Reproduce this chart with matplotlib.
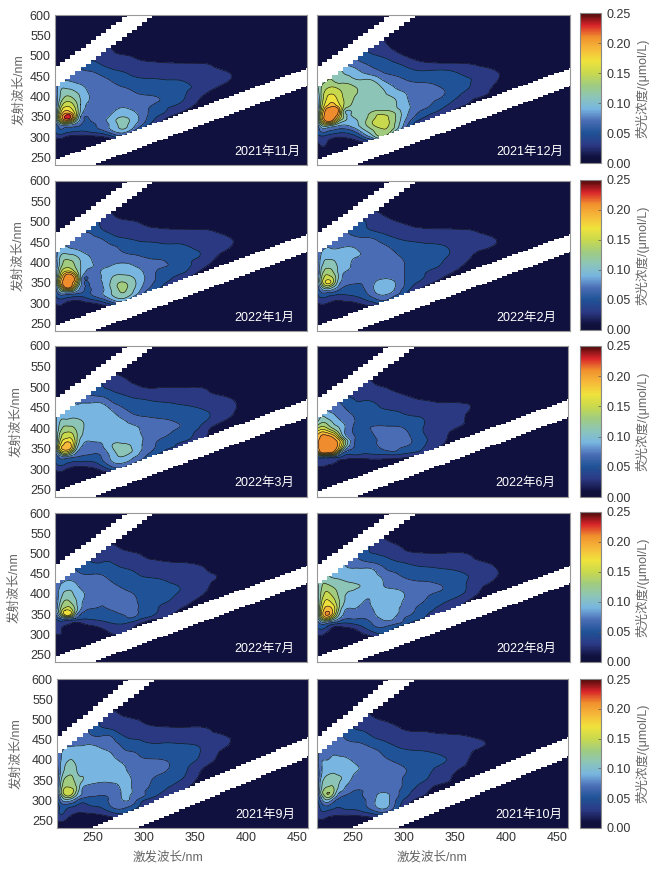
import numpy as np
import matplotlib
matplotlib.use('Agg')
import matplotlib.pyplot as plt
import matplotlib.tri as mtri
from matplotlib.cm import ScalarMappable
from matplotlib.colors import LinearSegmentedColormap, ListedColormap, Normalize

plt.rcParams['font.family'] = ['Liberation Sans', 'Noto Sans CJK SC', 'DejaVu Sans']

# values, in 0.001 umol/L
ex = [215, 220, 225, 230, 235, 240, 250, 260, 270, 280, 290, 300, 320, 340, 360, 380]
em_a = [520, 500, 480, 460, 440, 420, 400, 380, 370, 360, 350, 340, 330, 320, 300, 280]
em_b = [520, 500, 480, 460, 440, 420, 400, 380, 360, 340, 330, 320, 310, 300, 280, 260]

nov_2021 = [
    [40, 40, 40, 40, 40, 40, 40, 30, 19, 3, 0, 0, 0, 0, 0, 0],
    [60, 60, 60, 60, 50, 45, 38, 34, 28, 23, 18, 10, 2, 0, 0, 0],
    [80, 70, 70, 60, 60, 50, 45, 39, 33, 30, 28, 26, 23, 22, 21, 10],
    [80, 80, 80, 75, 70, 65, 61, 55, 46, 41, 36, 33, 30, 28, 26, 22],
    [70, 78, 80, 78, 75, 72, 68, 64, 59, 51, 46, 43, 41, 39, 32, 24],
    [60, 95, 100, 98, 93, 88, 72, 68, 65, 62, 58, 53, 47, 43, 31, 12],
    [50, 100, 120, 120, 110, 98, 78, 70, 68, 67, 65, 63, 57, 42, 18, 0],
    [45, 120, 150, 150, 130, 100, 74, 70, 69, 74, 74, 70, 52, 34, 10, 0],
    [45, 135, 170, 165, 140, 100, 72, 68, 73, 82, 78, 68, 45, 25, 5, 0],
    [50, 150, 195, 190, 150, 95, 70, 67, 78, 88, 85, 70, 42, 17, 0, 0],
    [50, 170, 225, 225, 150, 80, 66, 70, 85, 100, 92, 72, 30, 5, 0, 0],
    [50, 140, 180, 160, 110, 72, 60, 72, 90, 108, 95, 70, 20, 0, 0, 0],
    [40, 80, 85, 80, 70, 60, 55, 65, 85, 105, 90, 60, 10, 0, 0, 0],
    [35, 60, 55, 52, 50, 48, 52, 62, 83, 100, 80, 40, 0, 0, 0, 0],
    [20, 25, 18, 12, 10, 10, 12, 15, 30, 45, 20, 0, 0, 0, 0, 0],
    [5, 12, 5, 0, 0, 0, 0, 0, 0, 0, 0, 0, 0, 0, 0, 0],
]
dec_2021 = [
    [60, 60, 60, 60, 60, 60, 50, 40, 33, 25, 17, 8, 0, 0, 0, 0],
    [80, 80, 80, 80, 70, 65, 58, 48, 42, 37, 30, 20, 4, 0, 0, 0],
    [90, 95, 95, 90, 85, 80, 72, 62, 55, 48, 42, 37, 25, 23, 21, 12],
    [100, 110, 115, 112, 108, 100, 90, 78, 68, 59, 52, 46, 42, 43, 36, 28],
    [100, 112, 120, 120, 112, 112, 105, 102, 98, 78, 71, 62, 55, 50, 42, 30],
    [90, 125, 140, 145, 140, 135, 125, 115, 108, 98, 82, 74, 68, 58, 42, 23],
    [70, 130, 160, 165, 155, 140, 122, 112, 106, 102, 98, 84, 68, 57, 32, 17],
    [60, 140, 175, 190, 170, 145, 118, 108, 106, 105, 103, 88, 65, 43, 20, 0],
    [60, 150, 205, 212, 205, 140, 112, 105, 108, 112, 106, 90, 60, 35, 10, 0],
    [60, 170, 212, 216, 205, 125, 104, 108, 128, 132, 121, 90, 50, 25, 0, 0],
    [60, 180, 215, 215, 180, 125, 100, 112, 135, 145, 125, 88, 40, 10, 0, 0],
    [55, 160, 205, 190, 135, 105, 92, 113, 142, 148, 125, 82, 25, 0, 0, 0],
    [45, 110, 120, 105, 88, 80, 88, 112, 140, 148, 122, 75, 10, 0, 0, 0],
    [40, 75, 72, 65, 60, 58, 70, 100, 125, 140, 115, 60, 0, 0, 0, 0],
    [30, 35, 30, 24, 20, 20, 28, 55, 90, 110, 50, 0, 0, 0, 0, 0],
    [10, 22, 15, 3, 0, 0, 0, 0, 0, 0, 0, 0, 0, 0, 0, 0],
]
jan_2022 = [
    [40, 40, 40, 40, 40, 40, 40, 32, 21, 8, 0, 0, 0, 0, 0, 0],
    [60, 60, 60, 60, 55, 50, 46, 38, 30, 26, 23, 16, 3, 0, 0, 0],
    [80, 75, 70, 65, 62, 58, 55, 42, 36, 32, 29, 26, 23, 22, 21, 12],
    [85, 85, 85, 80, 75, 70, 64, 59, 47, 41, 38, 36, 32, 31, 29, 24],
    [75, 78, 80, 78, 76, 74, 69, 66, 62, 56, 48, 45, 44, 42, 35, 26],
    [65, 95, 103, 100, 96, 88, 76, 68, 66, 63, 60, 57, 52, 44, 38, 15],
    [55, 105, 125, 125, 115, 100, 82, 74, 76, 79, 76, 68, 62, 46, 30, 5],
    [50, 125, 155, 155, 130, 100, 76, 80, 88, 92, 90, 80, 56, 45, 15, 0],
    [50, 140, 195, 205, 165, 100, 72, 80, 95, 100, 97, 84, 52, 35, 8, 0],
    [55, 160, 208, 212, 190, 95, 70, 80, 100, 112, 104, 86, 50, 25, 2, 0],
    [55, 170, 212, 212, 170, 90, 66, 78, 104, 122, 110, 84, 45, 15, 0, 0],
    [50, 130, 205, 205, 135, 78, 62, 76, 104, 125, 110, 80, 38, 0, 0, 0],
    [40, 95, 115, 115, 90, 68, 60, 75, 100, 122, 105, 72, 25, 0, 0, 0],
    [35, 60, 58, 55, 50, 48, 58, 75, 98, 115, 95, 55, 5, 0, 0, 0],
    [20, 25, 18, 12, 10, 12, 18, 28, 50, 65, 35, 0, 0, 0, 0, 0],
    [5, 10, 5, 0, 0, 0, 0, 0, 0, 0, 0, 0, 0, 0, 0, 0],
]
feb_2022 = [
    [40, 40, 40, 40, 40, 40, 40, 32, 24, 18, 10, 3, 0, 0, 0, 0],
    [55, 55, 55, 55, 50, 48, 46, 42, 32, 27, 22, 16, 2, 0, 0, 0],
    [70, 70, 70, 65, 62, 60, 56, 46, 38, 33, 30, 28, 24, 23, 21, 12],
    [75, 75, 75, 72, 70, 66, 62, 61, 59, 50, 41, 37, 34, 32, 28, 24],
    [60, 72, 78, 76, 76, 78, 78, 70, 64, 62, 55, 48, 44, 40, 31, 24],
    [55, 85, 92, 90, 88, 87, 84, 78, 69, 66, 62, 56, 49, 42, 28, 8],
    [50, 95, 105, 105, 96, 88, 78, 71, 68, 66, 64, 60, 48, 38, 20, 0],
    [45, 110, 125, 120, 100, 85, 76, 67, 66, 66, 64, 60, 42, 30, 10, 0],
    [45, 120, 140, 130, 105, 80, 70, 65, 68, 72, 70, 60, 40, 22, 5, 0],
    [50, 130, 155, 145, 105, 78, 67, 65, 74, 80, 76, 60, 38, 15, 0, 0],
    [50, 130, 165, 145, 95, 72, 62, 62, 78, 88, 82, 60, 30, 5, 0, 0],
    [45, 100, 125, 105, 80, 62, 56, 60, 80, 90, 82, 58, 18, 0, 0, 0],
    [40, 70, 75, 70, 58, 50, 50, 56, 78, 88, 78, 50, 10, 0, 0, 0],
    [35, 50, 45, 42, 38, 38, 42, 50, 70, 80, 65, 40, 0, 0, 0, 0],
    [20, 22, 20, 15, 12, 14, 16, 25, 35, 45, 25, 0, 0, 0, 0, 0],
    [6, 10, 5, 0, 0, 0, 0, 0, 0, 0, 0, 0, 0, 0, 0, 0],
]
mar_2022 = [
    [40, 40, 40, 40, 40, 40, 40, 36, 28, 24, 14, 6, 0, 0, 0, 0],
    [60, 60, 60, 60, 58, 55, 50, 42, 36, 30, 26, 20, 19, 19, 18, 5],
    [80, 80, 80, 75, 72, 68, 60, 56, 48, 42, 36, 32, 29, 27, 26, 18],
    [90, 90, 90, 85, 80, 80, 81, 81, 65, 55, 50, 47, 42, 38, 34, 30],
    [80, 85, 85, 85, 86, 88, 88, 86, 82, 68, 58, 52, 48, 46, 42, 30],
    [70, 98, 102, 104, 104, 100, 92, 88, 84, 82, 72, 68, 62, 55, 44, 22],
    [60, 110, 125, 125, 118, 105, 95, 90, 87, 86, 84, 78, 68, 57, 32, 5],
    [55, 130, 150, 155, 130, 103, 88, 86, 90, 90, 87, 80, 62, 48, 26, 0],
    [55, 140, 170, 170, 135, 95, 82, 84, 92, 94, 90, 81, 56, 44, 18, 0],
    [55, 155, 185, 185, 130, 88, 75, 78, 98, 103, 97, 80, 52, 32, 8, 0],
    [55, 165, 190, 180, 115, 78, 68, 74, 96, 108, 100, 80, 48, 25, 0, 0],
    [50, 120, 150, 125, 85, 68, 62, 65, 90, 106, 98, 75, 38, 0, 0, 0],
    [40, 70, 80, 70, 62, 58, 56, 60, 85, 100, 85, 68, 20, 0, 0, 0],
    [35, 55, 50, 45, 42, 42, 42, 55, 80, 88, 75, 52, 5, 0, 0, 0],
    [22, 26, 22, 15, 12, 12, 15, 25, 45, 52, 30, 5, 0, 0, 0, 0],
    [6, 10, 5, 0, 0, 0, 0, 0, 0, 0, 0, 0, 0, 0, 0, 0],
]
jun_2022 = [
    [30, 30, 30, 30, 30, 30, 30, 25, 17, 5, 0, 0, 0, 0, 0, 0],
    [40, 40, 40, 40, 40, 38, 35, 30, 25, 20, 12, 4, 0, 0, 0, 0],
    [60, 60, 60, 60, 55, 45, 38, 36, 34, 30, 26, 21, 12, 5, 0, 0],
    [70, 75, 75, 72, 65, 58, 44, 42, 41, 36, 31, 28, 24, 21, 20, 8],
    [90, 90, 82, 78, 72, 66, 56, 48, 44, 42, 41, 38, 32, 26, 22, 5],
    [90, 110, 105, 95, 85, 75, 62, 54, 52, 50, 48, 46, 40, 28, 20, 0],
    [135, 150, 140, 120, 105, 88, 60, 56, 61, 63, 63, 60, 39, 25, 15, 0],
    [180, 205, 205, 195, 160, 105, 64, 50, 58, 66, 67, 66, 42, 23, 5, 0],
    [190, 212, 212, 208, 195, 150, 68, 52, 56, 66, 70, 68, 44, 22, 0, 0],
    [190, 212, 212, 210, 200, 150, 66, 50, 56, 66, 70, 66, 42, 18, 0, 0],
    [190, 212, 212, 208, 190, 120, 60, 48, 52, 62, 66, 56, 38, 10, 0, 0],
    [120, 200, 200, 190, 130, 65, 50, 44, 46, 50, 54, 45, 30, 0, 0, 0],
    [50, 65, 65, 60, 50, 38, 28, 27, 28, 28, 28, 25, 10, 0, 0, 0],
    [30, 30, 28, 24, 20, 16, 12, 14, 16, 16, 14, 8, 0, 0, 0, 0],
    [10, 8, 5, 2, 0, 0, 0, 0, 0, 0, 0, 0, 0, 0, 0, 0],
    [0, 0, 0, 0, 0, 0, 0, 0, 0, 0, 0, 0, 0, 0, 0, 0],
]
jul_2022 = [
    [35, 35, 35, 35, 35, 35, 35, 28, 22, 15, 5, 0, 0, 0, 0, 0],
    [50, 50, 50, 50, 48, 45, 42, 36, 28, 25, 23, 17, 3, 0, 0, 0],
    [60, 60, 60, 58, 58, 50, 40, 39, 39, 30, 26, 24, 21, 18, 14, 2],
    [65, 65, 65, 62, 60, 56, 52, 52, 48, 44, 39, 34, 28, 25, 21, 12],
    [70, 72, 75, 74, 70, 66, 64, 63, 57, 51, 45, 41, 38, 30, 24, 16],
    [60, 80, 88, 92, 85, 76, 68, 66, 63, 58, 52, 48, 44, 38, 25, 8],
    [55, 90, 105, 105, 95, 85, 74, 68, 66, 64, 61, 54, 46, 36, 20, 0],
    [50, 100, 125, 120, 105, 85, 70, 62, 64, 66, 65, 55, 42, 28, 10, 0],
    [50, 110, 135, 135, 110, 85, 65, 60, 63, 66, 65, 56, 38, 22, 5, 0],
    [55, 120, 160, 155, 115, 78, 58, 57, 60, 64, 64, 56, 36, 15, 0, 0],
    [55, 110, 170, 165, 95, 60, 52, 50, 54, 60, 62, 56, 32, 8, 0, 0],
    [40, 65, 80, 75, 60, 48, 44, 44, 48, 54, 58, 42, 20, 0, 0, 0],
    [30, 35, 30, 25, 20, 22, 30, 36, 42, 45, 38, 22, 0, 0, 0, 0],
    [25, 22, 18, 12, 10, 14, 18, 24, 32, 34, 25, 8, 0, 0, 0, 0],
    [18, 20, 10, 0, 0, 0, 5, 10, 18, 20, 10, 0, 0, 0, 0, 0],
    [0, 0, 0, 0, 0, 0, 0, 0, 0, 0, 0, 0, 0, 0, 0, 0],
]
aug_2022 = [
    [50, 50, 50, 50, 50, 50, 50, 45, 35, 27, 22, 15, 0, 0, 0, 0],
    [70, 70, 70, 70, 68, 66, 62, 46, 40, 36, 30, 25, 21, 21, 20, 5],
    [100, 100, 95, 90, 85, 80, 70, 62, 56, 50, 42, 38, 33, 30, 28, 18],
    [105, 105, 100, 90, 84, 82, 82, 82, 80, 64, 56, 50, 44, 41, 36, 28],
    [110, 110, 105, 100, 98, 96, 94, 88, 84, 78, 68, 60, 54, 49, 41, 28],
    [90, 120, 125, 118, 112, 106, 102, 98, 88, 80, 77, 72, 66, 58, 40, 18],
    [80, 130, 145, 135, 120, 105, 96, 86, 84, 84, 83, 80, 64, 54, 36, 10],
    [70, 145, 165, 155, 130, 105, 88, 80, 82, 85, 84, 78, 58, 40, 20, 0],
    [70, 155, 180, 170, 135, 100, 84, 77, 82, 85, 84, 76, 52, 34, 15, 0],
    [70, 165, 195, 180, 130, 88, 78, 75, 80, 86, 84, 74, 48, 28, 8, 0],
    [70, 170, 205, 175, 115, 82, 70, 70, 78, 86, 84, 70, 44, 16, 0, 0],
    [60, 140, 160, 125, 90, 68, 62, 60, 72, 83, 80, 60, 38, 0, 0, 0],
    [48, 80, 75, 65, 55, 45, 48, 52, 64, 75, 70, 55, 20, 0, 0, 0],
    [40, 50, 40, 25, 20, 22, 28, 42, 58, 62, 50, 30, 0, 0, 0, 0],
    [20, 22, 12, 5, 5, 8, 10, 18, 30, 38, 20, 0, 0, 0, 0, 0],
    [0, 5, 0, 0, 0, 0, 0, 0, 0, 0, 0, 0, 0, 0, 0, 0],
]
sep_2021 = [
    [40, 40, 40, 40, 40, 40, 40, 30, 22, 10, 0, 0, 0, 0, 0, 0],
    [60, 60, 60, 60, 58, 55, 48, 38, 30, 26, 22, 15, 0, 0, 0, 0],
    [70, 70, 70, 70, 68, 66, 50, 40, 35, 30, 28, 24, 22, 21, 20, 8],
    [80, 80, 80, 78, 76, 72, 60, 60, 56, 40, 36, 34, 31, 29, 26, 20],
    [70, 75, 78, 78, 78, 78, 78, 72, 65, 55, 46, 42, 41, 40, 35, 24],
    [60, 80, 88, 90, 90, 88, 86, 84, 76, 64, 60, 52, 47, 46, 36, 14],
    [55, 85, 98, 100, 95, 92, 86, 84, 82, 76, 67, 62, 60, 48, 32, 8],
    [50, 90, 105, 105, 98, 90, 84, 84, 83, 82, 72, 66, 63, 44, 18, 0],
    [45, 100, 120, 120, 103, 100, 84, 83, 82, 83, 77, 68, 56, 40, 12, 0],
    [45, 115, 135, 130, 112, 92, 79, 76, 78, 83, 78, 68, 46, 30, 5, 0],
    [45, 125, 145, 140, 115, 80, 68, 68, 72, 83, 78, 66, 42, 25, 0, 0],
    [45, 130, 155, 145, 105, 78, 64, 66, 72, 82, 78, 62, 38, 15, 0, 0],
    [40, 105, 135, 120, 88, 70, 60, 58, 68, 82, 75, 60, 30, 8, 0, 0],
    [35, 80, 90, 80, 60, 48, 52, 55, 68, 80, 70, 40, 18, 0, 0, 0],
    [30, 45, 40, 35, 30, 30, 35, 40, 58, 60, 45, 25, 5, 0, 0, 0],
    [30, 35, 25, 15, 10, 8, 10, 15, 22, 28, 15, 0, 0, 0, 0, 0],
]
oct_2021 = [
    [35, 35, 35, 35, 35, 35, 35, 25, 14, 5, 0, 0, 0, 0, 0, 0],
    [50, 50, 50, 50, 48, 45, 42, 32, 23, 18, 12, 5, 0, 0, 0, 0],
    [60, 60, 60, 60, 58, 55, 41, 36, 30, 26, 23, 18, 14, 10, 5, 0],
    [65, 65, 65, 65, 62, 60, 52, 48, 38, 33, 28, 24, 23, 22, 20, 10],
    [60, 62, 64, 64, 64, 63, 62, 60, 52, 45, 38, 34, 30, 28, 24, 20],
    [55, 68, 72, 74, 74, 72, 70, 68, 64, 57, 48, 43, 41, 35, 26, 10],
    [50, 78, 80, 85, 85, 84, 78, 70, 67, 63, 58, 52, 45, 41, 24, 3],
    [45, 80, 90, 92, 90, 84, 84, 76, 70, 66, 64, 61, 46, 34, 16, 0],
    [40, 85, 102, 105, 102, 98, 80, 72, 68, 66, 64, 60, 44, 28, 5, 0],
    [40, 100, 115, 118, 105, 90, 72, 66, 66, 68, 68, 58, 36, 15, 0, 0],
    [40, 105, 125, 125, 102, 84, 66, 63, 66, 70, 69, 56, 30, 0, 0, 0],
    [40, 115, 140, 130, 90, 75, 58, 60, 72, 80, 70, 52, 24, 0, 0, 0],
    [38, 95, 130, 110, 75, 60, 50, 60, 75, 85, 72, 48, 18, 0, 0, 0],
    [32, 75, 95, 75, 55, 48, 45, 55, 75, 88, 68, 38, 8, 0, 0, 0],
    [30, 45, 48, 42, 38, 40, 42, 50, 68, 82, 58, 25, 0, 0, 0, 0],
    [24, 28, 22, 18, 16, 15, 15, 18, 24, 30, 15, 0, 0, 0, 0, 0],
]

panels = [nov_2021, dec_2021, jan_2022, feb_2022, mar_2022, jun_2022, jul_2022, aug_2022, sep_2021, oct_2021]
months = ['2021年11月', '2021年12月', '2022年1月', '2022年2月', '2022年3月',
          '2022年6月', '2022年7月', '2022年8月', '2021年9月', '2021年10月']
xticks = [250, 300, 350, 400, 450]
yticks = [250, 300, 350, 400, 450, 500, 550, 600]
cbar_ticks = [0.00, 0.05, 0.10, 0.15, 0.20, 0.25]
levels = [0.02, 0.04, 0.06, 0.08, 0.10, 0.12, 0.14, 0.16, 0.18, 0.20, 0.22, 0.24]

W, H = 656, 869
NAVY = '#11113f'
TEXT = '#333333'
GREY = '#666666'
cmap = LinearSegmentedColormap.from_list('eem', [
    (0.00, '#0f0f3a'), (0.01 / 0.25, NAVY), (0.03 / 0.25, '#2c3a85'), (0.05 / 0.25, '#1f5296'),
    (0.07 / 0.25, '#4a6db5'), (0.09 / 0.25, '#78b5e0'), (0.11 / 0.25, '#8cc5b8'),
    (0.13 / 0.25, '#a0cc80'), (0.15 / 0.25, '#c9d94e'), (0.17 / 0.25, '#efe23c'),
    (0.19 / 0.25, '#f6b93a'), (0.21 / 0.25, '#f0912e'), (0.23 / 0.25, '#d8232a'),
    (1.00, '#4a0a0a')])
norm = Normalize(0, 0.25)

# pixel boxes: top, bottom of each row
row_y = [(15, 165), (181, 331), (346, 497), (513, 662), (679, 828)]
left_x = [(55, 307), (55, 307), (55, 307), (55, 307), (57, 308)]
right_x = [(317, 570), (317, 570), (317, 568), (317, 570), (317, 568)]
cbar_y = [(13, 163), (180, 330), (346, 497), (512, 662), (679, 828)]
ylabel_x = [19, 18, 16, 14, 16]


def add_axes(x0, x1, y0, y1):
    return plt.axes([x0 / W, 1 - y1 / H, (x1 - x0) / W, (y1 - y0) / H])


def band_mask(row):
    # scatter bands are blanked cell by cell, that gives the stairs
    xe = np.arange(215, 466, 5)
    ye = np.arange(232, 602, 1)
    xc, yc = np.meshgrid(xe[:-1] + 2.5, ye[:-1] + 0.5)
    if row < 4:
        up1 = 470 + 1.83 * (xc - 215)
        lo1 = 421 + 1.85 * (xc - 215)
        up2 = 245 + 0.91 * (xc - 215)
        lo2 = 232 + 0.928 * (xc - 252)
    else:
        up1 = 455 + 2.07 * (xc - 215)
        lo1 = 412 + 1.96 * (xc - 215)
        up2 = 232 + 1.05 * (xc - 248)
        lo2 = 232 + 1.05 * (xc - 294)
    mask = np.full(xc.shape, np.nan)
    mask[yc >= up1] = 0
    mask[(yc >= lo1) & (yc < up1)] = 1
    mask[(yc >= lo2) & (yc < up2)] = 1
    mask[yc < lo2] = 0
    return xe, ye, mask


def draw_panel(ax, data, em, row):
    xs = np.array(ex + [420, 461], dtype=float)
    ys = np.array([600] + em + [230], dtype=float)
    z = np.pad(np.array(data, dtype=float) / 1000, ((1, 1), (0, 2)))
    xx, yy = np.meshgrid(xs, ys)
    tri = mtri.Triangulation(xx.ravel(), yy.ravel())
    refiner = mtri.UniformTriRefiner(tri)
    tri2, z2 = refiner.refine_field(z.ravel(), subdiv=3)
    z2 = np.clip(z2, 0, z.max())  # cubic overshoots above the read peak otherwise

    bounds = [-1] + levels + [1]
    mids = [0.0] + [l + 0.01 for l in levels]
    ax.set_facecolor(NAVY)
    ax.tricontourf(tri2, z2, levels=bounds, colors=[NAVY] + [cmap(norm(m)) for m in mids[1:]])
    ax.tricontour(tri2, z2, levels=levels, colors='#111111', linewidths=0.45)

    xe, ye, mask = band_mask(row)
    ax.pcolormesh(xe, ye, mask, cmap=ListedColormap([NAVY, 'white']), vmin=0, vmax=1,
                  shading='flat', zorder=3, linewidth=0, rasterized=True)

    ax.set_xlim(215, 461)
    ax.set_ylim(232, 600)
    ax.set_xticks(xticks)
    ax.set_yticks(yticks)
    ax.tick_params(length=0, pad=3, labelsize=9, labelcolor=TEXT)
    for s in ax.spines.values():
        s.set_color('#999999')
        s.set_linewidth(0.8)
        s.set_zorder(5)


fig = plt.figure(figsize=(W / 100, H / 100), dpi=100)

for row in range(5):
    y0, y1 = row_y[row]
    em = em_b if row == 4 else em_a
    ax1 = add_axes(left_x[row][0], left_x[row][1], y0, y1)
    ax2 = add_axes(right_x[row][0], right_x[row][1], y0, y1)
    draw_panel(ax1, panels[row * 2], em, row)
    draw_panel(ax2, panels[row * 2 + 1], em, row)
    ax2.set_yticklabels([])
    if row < 4:
        ax1.set_xticklabels([])
        ax2.set_xticklabels([])

    ax1.text(0.71, 0.09, months[row * 2], transform=ax1.transAxes, color='white', fontsize=9,
             va='center', zorder=6)
    ax2.text(0.71, 0.09, months[row * 2 + 1], transform=ax2.transAxes, color='white', fontsize=9,
             va='center', zorder=6)

    fig.text(ylabel_x[row] / W, 1 - (y0 + y1) / 2 / H, '发射波长/nm', rotation=90, color=GREY,
             fontsize=9, ha='center', va='center')

    cax = add_axes(580, 601, cbar_y[row][0], cbar_y[row][1])
    cb = fig.colorbar(ScalarMappable(norm=norm, cmap=cmap), cax=cax, ticks=cbar_ticks)
    cb.ax.set_yticklabels(['%.2f' % t for t in cbar_ticks])
    cb.ax.tick_params(length=2, width=0.5, direction='in', color='#555555', pad=4,
                      labelsize=9, labelcolor=TEXT)
    cb.outline.set_edgecolor('#888888')
    cb.outline.set_linewidth(0.8)
    fig.text(642 / W, 1 - sum(cbar_y[row]) / 2 / H, '荧光浓度/(μmol/L)', rotation=90, color=GREY,
             fontsize=9, ha='center', va='center')

fig.text(168 / W, 1 - 857 / H, '激发波长/nm', color=GREY, fontsize=9, ha='center', va='center')
fig.text(432 / W, 1 - 857 / H, '激发波长/nm', color=GREY, fontsize=9, ha='center', va='center')

plt.savefig('out.png', dpi=100)
